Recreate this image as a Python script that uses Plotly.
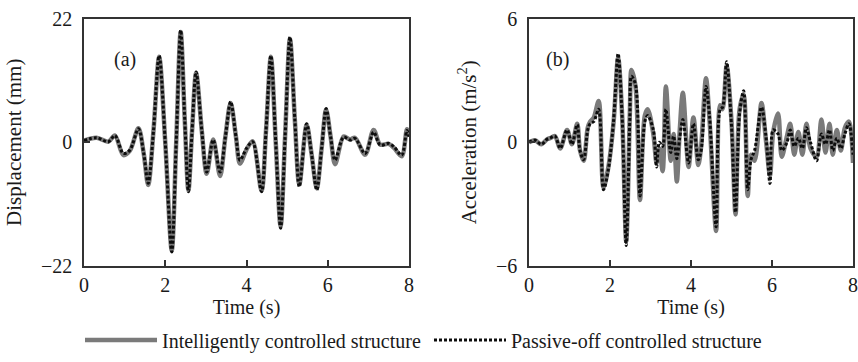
import plotly.graph_objects as go

# ---------------- data ----------------
time_a = [0.0, 0.31, 0.6, 0.76, 0.97, 1.13, 1.34, 1.47, 1.58, 1.71, 1.85, 2.0, 2.16, 2.27, 2.38,
          2.48, 2.57, 2.66, 2.76, 2.9, 3.02, 3.18, 3.35, 3.48, 3.61, 3.74, 3.84, 4.0, 4.15, 4.37,
          4.48, 4.6, 4.72, 4.84, 4.95, 5.07, 5.19, 5.3, 5.48, 5.6, 5.73, 5.85, 5.96, 6.07, 6.18,
          6.39, 6.55, 6.67, 6.92, 7.13, 7.29, 7.5, 7.63, 7.82, 7.95, 8.0]
disp_passive = [0.3, 0.8, 0.1, 1.2, -2.0, -1.4, 2.4, -2.0, -7.3, 2.0, 15.4, 0.0, -19.5, 0.0, 19.9,
                4.0, -8.8, 2.0, 12.5, 2.0, -5.3, 0.4, -5.3, 1.0, 7.2, 1.0, -3.2, -1.1, 0.1, -8.8,
                2.0, 15.4, 0.0, -15.3, 1.0, 18.7, 4.0, -7.9, 3.3, -2.0, -8.5, -1.0, 6.0, 1.0, -3.2,
                0.9, 0.4, 0.7, -2.0, 1.8, -0.5, -0.2, -0.8, -2.3, 2.1, 1.0]
disp_intelligent = [0.3, 0.8, 0.1, 1.2, -2.3, -1.5, 2.5, -2.0, -7.6, 2.0, 15.2, 0.0, -19.2, 0.0, 19.6,
                    4.0, -8.6, 2.0, 12.3, 2.0, -5.6, 0.5, -6.0, 1.0, 7.0, 1.0, -3.8, -1.3, 0.2, -8.6,
                    2.0, 15.2, 0.0, -15.0, 1.0, 18.4, 4.0, -7.5, 3.1, -2.0, -8.2, -1.0, 5.8, 1.0, -3.9,
                    1.0, 0.5, 0.8, -2.2, 2.2, -0.4, -0.3, -1.0, -2.5, 2.3, 1.0]

time_b = [0.0, 0.15, 0.3, 0.45, 0.52, 0.64, 0.77, 0.94, 1.06, 1.19, 1.26, 1.35, 1.45, 1.51, 1.6,
          1.72, 1.84, 1.96, 2.09, 2.2, 2.3, 2.4, 2.49, 2.53, 2.63, 2.74, 2.86, 2.93, 3.07, 3.15,
          3.22, 3.3, 3.38, 3.5, 3.57, 3.65, 3.72, 3.8, 3.94, 4.06, 4.18, 4.25, 4.37, 4.46, 4.62,
          4.72, 4.78, 4.88, 5.0, 5.1, 5.2, 5.3, 5.4, 5.48, 5.57, 5.74, 5.85, 5.95, 6.03, 6.15,
          6.24, 6.37, 6.45, 6.55, 6.65, 6.75, 6.85, 6.95, 7.1, 7.22, 7.32, 7.42, 7.5, 7.6, 7.7,
          7.8, 7.9, 8.0]
acc_passive = [0.0, 0.1, -0.1, 0.15, 0.2, 0.3, -0.3, 0.6, -0.1, 0.85, -0.4, -0.85, 0.6, 0.9, 1.0,
               1.6, -2.3, -1.3, 1.1, 4.3, 1.2, -5.0, 1.2, 3.2, 2.8, -2.6, 1.0, 1.3, 0.6, -1.2,
               0.0, -0.2, 1.6, -0.5, 0.3, -0.8, 0.2, 1.1, -1.0, 0.9, -0.85, -0.4, 2.7, 1.2, -4.1,
               1.6, 1.7, 3.9, 0.8, -3.4, 1.4, 2.5, -2.3, -0.85, -0.4, 1.7, 0.3, -2.0, 0.6, 0.4,
               -0.4, 0.0, 0.6, -0.2, 0.2, -0.3, 0.7, 0.0, -0.9, 0.4, -0.1, 0.6, -0.4, 0.2, -0.3,
               0.4, 0.9, -0.6]
acc_intelligent = [0.0, 0.1, -0.1, 0.15, 0.2, 0.3, -0.3, 0.6, -0.1, 0.9, -0.4, -0.9, 0.7, 1.0, 1.2,
                   2.0, -2.2, -1.2, 1.0, 4.1, 1.3, -4.8, 1.4, 3.5, 2.7, -2.8, 1.3, 1.6, 0.4, -1.0,
                   -0.3, -1.4, 2.7, -0.9, 0.4, -1.9, 0.5, 2.4, -1.2, 1.2, -1.1, -0.2, 3.1, 1.0, -4.3,
                   1.8, 1.6, 3.7, 1.0, -3.5, 1.6, 2.3, -2.6, -0.6, -0.9, 1.9, 0.1, -1.6, 0.5, 1.4,
                   -0.7, 0.3, 0.9, -0.6, 0.5, -0.6, 0.9, -0.3, -0.7, 1.1, -0.5, 0.9, -0.6, 0.6, -0.4,
                   0.7, 1.0, -1.0]

x_ticks = [0, 2, 4, 6, 8]
disp_ticks = [-22, 0, 22]
disp_tick_text = ["\u221222", "0", "22"]
acc_ticks = [-6, 0, 6]
acc_tick_text = ["\u22126", "0", "6"]

series_names = ["Intelligently controlled structure", "Passive-off controlled structure"]

# ---------------- figure ----------------
FONT = "Liberation Serif"
TXT = "#1a1a1a"
GRAY = "#7a7a7a"
DOT = dict(color="#0d0d0d", width=3, dash="3px,2px", shape="spline", smoothing=0.9)
SOLID = dict(color=GRAY, width=4.5, shape="spline", smoothing=0.9)

fig = go.Figure()

fig.add_trace(go.Scatter(x=time_a, y=disp_intelligent, mode="lines", name=series_names[0],
                         line=SOLID, xaxis="x", yaxis="y", legendgroup="i"))
fig.add_trace(go.Scatter(x=time_a, y=disp_passive, mode="lines", name=series_names[1],
                         line=DOT, xaxis="x", yaxis="y", legendgroup="p"))
fig.add_trace(go.Scatter(x=time_b, y=acc_intelligent, mode="lines", name=series_names[0],
                         line=SOLID, xaxis="x2", yaxis="y2", legendgroup="i", showlegend=False))
fig.add_trace(go.Scatter(x=time_b, y=acc_passive, mode="lines", name=series_names[1],
                         line=DOT, xaxis="x2", yaxis="y2", legendgroup="p", showlegend=False))

W, H = 858, 362
ydom = [1 - 266 / H, 1 - 18.5 / H]

axis_common = dict(
    showline=True, mirror=True, linecolor="#333333", linewidth=1.5,
    showgrid=False, zeroline=False, ticks="inside", ticklen=6, tickcolor="#333333",
    tickwidth=1.5, tickfont=dict(family=FONT, size=20, color=TXT), automargin=False,
)
title_font = dict(family=FONT, size=20, color=TXT)
ytitle_font = dict(family=FONT, size=21, color=TXT)

fig.update_layout(
    width=W, height=H,
    margin=dict(l=0, r=0, t=0, b=0),
    paper_bgcolor="white", plot_bgcolor="white",
    font=dict(family=FONT, size=20, color=TXT),
    xaxis=dict(domain=[84 / W, 409 / W], range=[0, 8], tickvals=x_ticks, anchor="y",
               title=dict(text="Time (s)", standoff=1, font=title_font), **axis_common),
    yaxis=dict(domain=ydom, range=[-22, 22], tickvals=disp_ticks, ticktext=disp_tick_text,
               anchor="x", ticklabelstandoff=6,
               title=dict(text="Displacement (mm)", standoff=14, font=ytitle_font), **axis_common),
    xaxis2=dict(domain=[529 / W, 853 / W], range=[0, 8], tickvals=x_ticks, anchor="y2",
                title=dict(text="Time (s)", standoff=1, font=title_font), **axis_common),
    yaxis2=dict(domain=ydom, range=[-6, 6], tickvals=acc_ticks, ticktext=acc_tick_text,
                anchor="x2", ticklabelstandoff=6,
                title=dict(text="Acceleration (m/s<sup>2</sup>)", standoff=14, font=ytitle_font),
                **axis_common),
    showlegend=True,
    legend=dict(orientation="h", x=0.5, xanchor="center", y=1 - 340 / H, yanchor="middle",
                font=dict(family=FONT, size=20, color=TXT), bgcolor="rgba(0,0,0,0)",
                itemwidth=72, entrywidth=262, entrywidthmode="pixels", tracegroupgap=0),
    annotations=[
        dict(text="(a)", x=112 / W, y=1 - 46 / H, xref="paper", yref="paper", showarrow=False,
             font=dict(family=FONT, size=20, color=TXT)),
        dict(text="(b)", x=557 / W, y=1 - 46 / H, xref="paper", yref="paper", showarrow=False,
             font=dict(family=FONT, size=20, color=TXT)),
    ],
)

fig.write_html("out.html")
